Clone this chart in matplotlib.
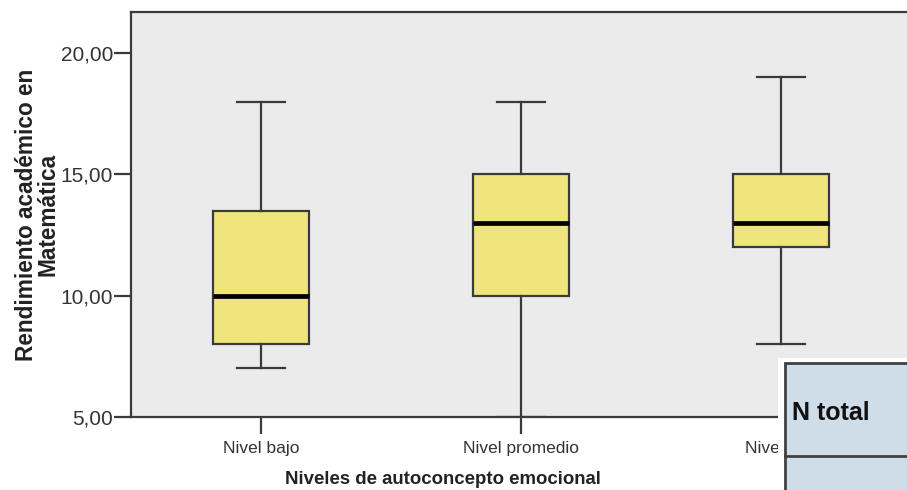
import matplotlib
matplotlib.use("Agg")
import matplotlib.pyplot as plt
from matplotlib.patches import Rectangle
from matplotlib.lines import Line2D

# ---------------------------------------------------------
# Data: summary statistics per group
# ---------------------------------------------------------

groups = ["Nivel bajo", "Nivel promedio", "Nivel alto"]
mins = [7, 5, 8]
q1 = [8, 10, 12]
medians = [10, 13, 13]
q3 = [13.5, 15, 15]
maxs = [18, 18, 19]

y_ticks = [5, 10, 15, 20]
y_tick_labels = ["5,00", "10,00", "15,00", "20,00"]

# ---------------------------------------------------------
# Style
# ---------------------------------------------------------

plt.rcParams["font.family"] = ["Liberation Sans", "DejaVu Sans"]

W, H = 907, 490
EDGE = "#3a3a3a"
BOX_FILL = "#f0e47c"
BG = "#ebebeb"
TABLE_FILL = "#cfdde9"


def px(x0, y0, x1, y1):
    # pixel box (top-left origin) -> figure fraction rect
    return [x0 / W, 1 - y1 / H, (x1 - x0) / W, (y1 - y0) / H]


fig = plt.figure(figsize=(W / 100, H / 100), dpi=100)
fig.patch.set_facecolor("white")

ax = fig.add_axes(px(131, 12, 911, 417))
ax.set_facecolor(BG)

stats = []
for i, name in enumerate(groups):
    stats.append({
        "label": name,
        "whislo": mins[i],
        "q1": q1[i],
        "med": medians[i],
        "q3": q3[i],
        "whishi": maxs[i],
        "fliers": [],
    })

ax.bxp(
    stats,
    positions=[1, 2, 3],
    widths=0.373,
    patch_artist=True,
    showfliers=False,
    boxprops=dict(facecolor=BOX_FILL, edgecolor=EDGE, linewidth=1.6),
    medianprops=dict(color="black", linewidth=3.4, solid_capstyle="butt"),
    whiskerprops=dict(color=EDGE, linewidth=1.6),
    capprops=dict(color=EDGE, linewidth=1.6),
)

ax.set_xlim(0.5, 3.5)
ax.set_ylim(5, 21.7)

ax.set_yticks(y_ticks)
ax.set_yticklabels(y_tick_labels)
ax.set_xticks([1, 2, 3])
ax.set_xticklabels(groups)

ax.tick_params(axis="both", direction="out", length=12, width=1.6,
               color=EDGE, labelcolor="#333333")
ax.tick_params(axis="y", pad=1, labelsize=15)
ax.tick_params(axis="x", pad=5, labelsize=12.5)

for side in ["left", "bottom", "top", "right"]:
    ax.spines[side].set_color(EDGE)
    ax.spines[side].set_linewidth(1.6)

ax.set_ylabel("Rendimiento académico en\nMatemática", fontsize=16.3,
              fontweight="bold", color="#222222", linespacing=0.9,
              labelpad=1)

fig.text(443 / W, 1 - 479 / H, "Niveles de autoconcepto emocional",
         ha="center", va="center", fontsize=13.4, fontweight="bold",
         color="#222222")

# ---------------------------------------------------------
# Overlapping statistics table fragment
# ---------------------------------------------------------

fig.add_artist(Rectangle((778 / W, 0), 1, 1 - 358 / H,
                         transform=fig.transFigure, facecolor="white",
                         edgecolor="none", zorder=5))
fig.add_artist(Rectangle((785 / W, -0.1), 1, 1 - 363 / H + 0.1,
                         transform=fig.transFigure, facecolor=TABLE_FILL,
                         edgecolor="#404040", linewidth=2.0, zorder=6))
fig.add_artist(Line2D([785 / W, 1], [1 - 456 / H, 1 - 456 / H],
                      transform=fig.transFigure, color="#404040",
                      linewidth=2.0, zorder=7))
fig.text(792 / W, 1 - 413 / H, "N total", ha="left", va="center",
         fontsize=18, fontweight="bold", color="#111111", zorder=8)

fig.savefig("out.png", dpi=100)
